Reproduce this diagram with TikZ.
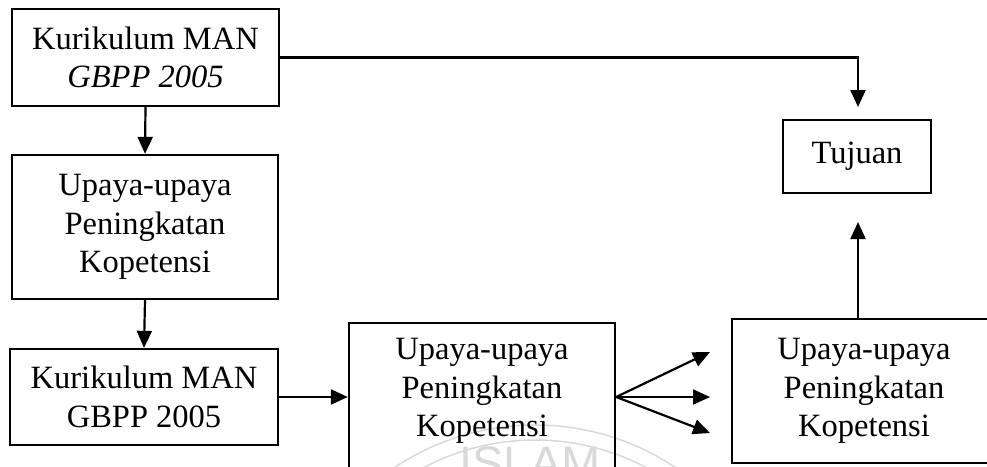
\documentclass[tikz,border=0pt]{standalone}
\usepackage{fontspec}
\setmainfont{Liberation Serif}
\setsansfont{Liberation Sans}
\usetikzlibrary{arrows.meta}
\begin{document}
\begin{tikzpicture}[x=1pt,y=-1pt,
  box/.style={draw, line width=2.3pt, rectangle, inner sep=0pt},
  txt/.style={align=center, font=\fontsize{32.5}{38.5}\selectfont, inner sep=0pt},
  conn/.style={line width=2.2pt, -{Triangle[length=17pt,width=15pt]}},
  wmark/.style={gray!30, line width=1.5pt}]
\useasboundingbox (0,0) rectangle (987,466);
\clip (0,0) rectangle (987,466);
% faint watermark
\draw[wmark] (535,678) circle (253);
\draw[wmark] (535,678) circle (238);
\node[font=\sffamily\fontsize{47}{47}\selectfont, text=gray!30, anchor=base, inner sep=0pt] (wm) at (530,479) {ISLAM};
% boxes
\node[box, txt, minimum width=267, minimum height=97] (A) at (145.5,57.5) {Kurikulum MAN\\\textit{GBPP 2005}};
\node[box, txt, minimum width=266, minimum height=144] (B) at (145,227) {Upaya-upaya\\Peningkatan\\Kopetensi};
\node[box, txt, minimum width=268, minimum height=96] (C) at (144,397) {Kurikulum MAN\\GBPP 2005};
\node[box, minimum width=266, minimum height=167] (D) at (482,406.5) {};
\node[txt] (Dt) at (482,391) {Upaya-upaya\\Peningkatan\\Kopetensi};
\node[box, txt, minimum width=264, minimum height=144] (E) at (864,391) {Upaya-upaya\\Peningkatan\\Kopetensi};
\node[box, txt, minimum width=148, minimum height=73] (T) at (857,156.5) {Tujuan};
% free ends
\coordinate (t1) at (858,107);
\coordinate (t2) at (858,222);
\coordinate (f1) at (710,352);
\coordinate (f2) at (710,397);
\coordinate (f3) at (710,433);
% connectors
\draw[conn] (A.east) -| (t1);
\draw[conn] (A.south) -- (B.north);
\draw[conn] (B.south) -- (C.north);
\draw[conn] (C.east) -- (C.east -| D.west);
\draw[conn] (D.east |- C.east) -- (f1);
\draw[conn] (D.east |- C.east) -- (f2);
\draw[conn] (D.east |- C.east) -- (f3);
\draw[conn] (E.north -| t2) -- (t2);
\end{tikzpicture}
\end{document}
